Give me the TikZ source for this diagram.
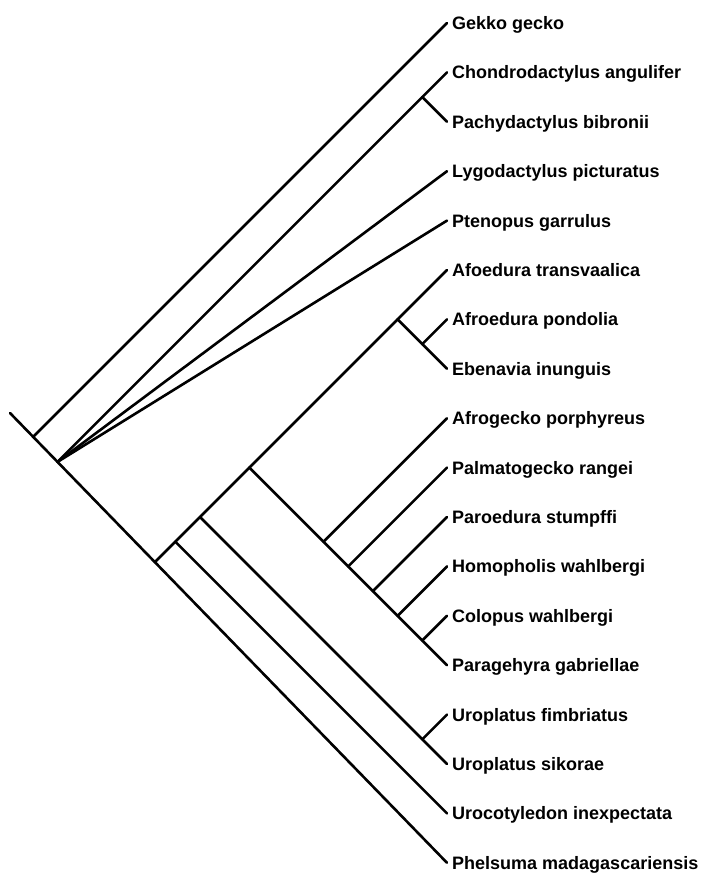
\documentclass[tikz,border=0pt]{standalone}
\usepackage{fontspec}
\setmainfont{Liberation Sans}
\begin{document}
\begin{tikzpicture}[x=1pt,y=-1pt,
  br/.style={line width=2.6pt,line cap=round},
  lbl/.style={anchor=base west,inner sep=0pt,font=\fontsize{18}{20}\selectfont\bfseries,yshift=-6.4pt,xshift=5pt}]
\useasboundingbox (0,0) rectangle (703,873);
% tips
\coordinate (t1) at (447,23);
\coordinate (t2) at (447,72.4);
\coordinate (t3) at (447,121.8);
\coordinate (t4) at (447,171.2);
\coordinate (t5) at (447,220.6);
\coordinate (t6) at (447,270);
\coordinate (t7) at (447,319.4);
\coordinate (t8) at (447,368.8);
\coordinate (t9) at (447,418.2);
\coordinate (t10) at (447,467.6);
\coordinate (t11) at (447,517);
\coordinate (t12) at (447,566.4);
\coordinate (t13) at (447,615.8);
\coordinate (t14) at (447,665.2);
\coordinate (t15) at (447,714.6);
\coordinate (t16) at (447,764);
\coordinate (t17) at (447,813.4);
\coordinate (t18) at (447,862.8);
% labels
\node[lbl] (l1) at (t1) {Gekko gecko};
\node[lbl] (l2) at (t2) {Chondrodactylus angulifer};
\node[lbl] (l3) at (t3) {Pachydactylus bibronii};
\node[lbl] (l4) at (t4) {Lygodactylus picturatus};
\node[lbl] (l5) at (t5) {Ptenopus garrulus};
\node[lbl] (l6) at (t6) {Afoedura transvaalica};
\node[lbl] (l7) at (t7) {Afroedura pondolia};
\node[lbl] (l8) at (t8) {Ebenavia inunguis};
\node[lbl] (l9) at (t9) {Afrogecko porphyreus};
\node[lbl] (l10) at (t10) {Palmatogecko rangei};
\node[lbl] (l11) at (t11) {Paroedura stumpffi};
\node[lbl] (l12) at (t12) {Homopholis wahlbergi};
\node[lbl] (l13) at (t13) {Colopus wahlbergi};
\node[lbl] (l14) at (t14) {Paragehyra gabriellae};
\node[lbl] (l15) at (t15) {Uroplatus fimbriatus};
\node[lbl] (l16) at (t16) {Uroplatus sikorae};
\node[lbl] (l17) at (t17) {Urocotyledon inexpectata};
\node[lbl] (l18) at (t18) {Phelsuma madagascariensis};
% internal nodes
\coordinate (root) at (10,413);
\coordinate (nG) at (33.2,436.8);
\coordinate (nF) at (57.5,461.9);
\coordinate (nA) at (154.9,562.1);
\coordinate (nCP) at (422.3,97.1);
\coordinate (nU17) at (175.3,541.7);
\coordinate (nU16) at (200,517);
\coordinate (nU15) at (422.3,739.3);
\coordinate (nP) at (249.4,467.6);
\coordinate (nP9) at (323.5,541.7);
\coordinate (nP10) at (348.2,566.4);
\coordinate (nP11) at (372.9,591.1);
\coordinate (nP12) at (397.6,615.8);
\coordinate (nP13) at (422.3,640.5);
\coordinate (nE) at (397.6,319.4);
\coordinate (nE7) at (422.3,344.1);
% branches
\draw[br] (root) -- (t18);
\draw[br] (nG) -- (t1);
\draw[br] (nF) -- (t2);
\draw[br] (nCP) -- (t3);
\draw[br] (nF) -- (t4);
\draw[br] (nF) -- (t5);
\draw[br] (nA) -- (t6);
\draw[br] (nE) -- (t8);
\draw[br] (nE7) -- (t7);
\draw[br] (nU17) -- (t17);
\draw[br] (nU16) -- (t16);
\draw[br] (nU15) -- (t15);
\draw[br] (nP) -- (t14);
\draw[br] (nP9) -- (t9);
\draw[br] (nP10) -- (t10);
\draw[br] (nP11) -- (t11);
\draw[br] (nP12) -- (t12);
\draw[br] (nP13) -- (t13);
\end{tikzpicture}
\end{document}
